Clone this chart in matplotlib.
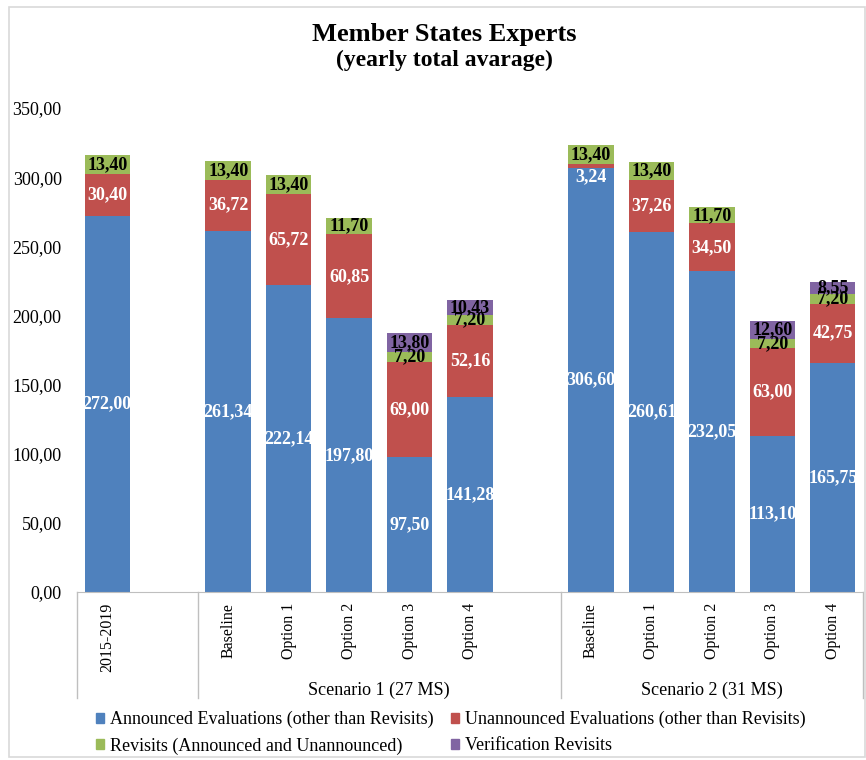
import numpy as np
import matplotlib
matplotlib.use("Agg")
import matplotlib.pyplot as plt
from matplotlib.patches import Patch, Rectangle
import matplotlib.transforms as mtransforms

plt.rcParams['font.family'] = ['Liberation Serif', 'DejaVu Serif']

# ---------------- data ----------------
categories = ["2015-2019", "Baseline", "Option 1", "Option 2", "Option 3", "Option 4",
              "Baseline", "Option 1", "Option 2", "Option 3", "Option 4"]
groups = ["Scenario 1 (27 MS)", "Scenario 2 (31 MS)"]

announced = [272.00, 261.34, 222.14, 197.80, 97.50, 141.28,
             306.60, 260.61, 232.05, 113.10, 165.75]
unannounced = [30.40, 36.72, 65.72, 60.85, 69.00, 52.16,
               3.24, 37.26, 34.50, 63.00, 42.75]
revisits = [13.40, 13.40, 13.40, 11.70, 7.20, 7.20,
            13.40, 13.40, 11.70, 7.20, 7.20]
verification = [0, 0, 0, 0, 13.80, 10.43,
                0, 0, 0, 12.60, 8.55]

series_names = ["Announced Evaluations (other than Revisits)",
                "Unannounced Evaluations (other than Revisits)",
                "Revisits (Announced and Unannounced)",
                "Verification Revisits"]
colors = ["#4F81BD", "#C0504D", "#9BBB59", "#8064A2"]
label_colors = ["white", "white", "black", "black"]

# slot positions (empty slot after 2015-2019 and after scenario 1)
x = np.array([0, 2, 3, 4, 5, 6, 8, 9, 10, 11, 12])


def fmt(v):
    return f"{v:.2f}".replace(".", ",")


fig = plt.figure(figsize=(8.66, 7.6), dpi=100)
fig.patches.append(Rectangle((9 / 866, 3 / 760), 856 / 866, 750 / 760,
                             transform=fig.transFigure, fill=False,
                             edgecolor="#D9D9D9", linewidth=1.2))

ax = fig.add_axes([77 / 866, 168 / 760, 786 / 866, 484 / 760])

bottom = np.zeros(len(x))
for vals, c, lc, name in zip([announced, unannounced, revisits, verification],
                             colors, label_colors, series_names):
    vals = np.array(vals)
    ax.bar(x, vals, 0.75, bottom=bottom, color=c, label=name, zorder=2)
    for xi, b, v in zip(x, bottom, vals):
        if v <= 0:
            continue
        if v < 5:
            # tiny segment: put the label just under it
            ax.text(xi, b, fmt(v), ha="center", va="top", color=lc,
                    fontsize=13, fontweight="bold", zorder=3)
        else:
            ax.text(xi, b + v / 2, fmt(v), ha="center", va="center",
                    color=lc, fontsize=13, fontweight="bold", zorder=3)
    bottom += vals

ax.set_xlim(-0.5, 12.5)
ax.set_ylim(0, 350)
ax.set_yticks(np.arange(0, 351, 50))
ax.set_yticklabels([fmt(v) for v in np.arange(0, 351, 50)], fontsize=13)
ax.tick_params(axis="y", length=0, pad=11)
ax.set_xticks(x)
ax.set_xticklabels(categories, rotation=90, fontsize=11.5, va="top")
ax.tick_params(axis="x", length=0, pad=8)
for s in ["top", "right", "left"]:
    ax.spines[s].set_visible(False)
ax.spines["bottom"].set_color("#BFBFBF")

# multi-level category axis separators
trans = mtransforms.blended_transform_factory(ax.transData, ax.transAxes)
for sep in [-0.5, 1.5, 7.5, 12.5]:
    ax.plot([sep, sep], [0, -0.219], transform=trans, color="#BFBFBF",
            linewidth=1, clip_on=False)
ax.text(4.5, -0.204, groups[0], transform=trans, ha="center", va="center", fontsize=13)
ax.text(10, -0.204, groups[1], transform=trans, ha="center", va="center", fontsize=13)

fig.text(0.513, 1 - 35 / 760, "Member States Experts", ha="center", va="center",
         fontsize=19, fontweight="bold")
fig.text(0.513, 1 - 60 / 760, "(yearly total avarage)", ha="center", va="center",
         fontsize=17, fontweight="bold")

# legend laid out row by row like the original
order = [0, 2, 1, 3]
handles = [Patch(facecolor=colors[i], edgecolor=colors[i]) for i in order]
fig.legend(handles, [series_names[i] for i in order], ncol=2, loc="upper left",
           bbox_to_anchor=(87 / 866, 1 - 702 / 760), frameon=False, borderpad=0,
           fontsize=13, handlelength=0.45, handleheight=0.45,
           handletextpad=0.3, columnspacing=1.0, labelspacing=0.5)

fig.savefig("out.png", dpi=100)
